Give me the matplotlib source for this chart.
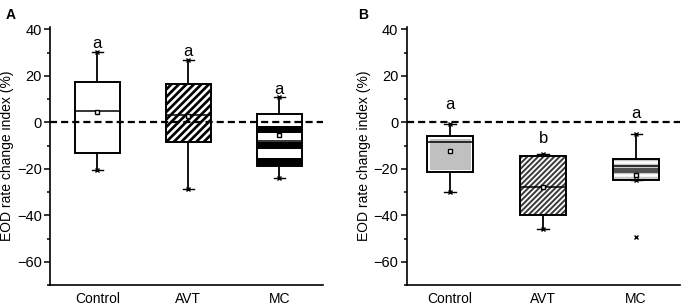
import numpy as np
import matplotlib
matplotlib.use("Agg")
import matplotlib.pyplot as plt
from matplotlib.patches import PathPatch
from matplotlib.lines import Line2D
from matplotlib.transforms import IdentityTransform

plt.rcParams["font.family"] = ["Liberation Sans", "DejaVu Sans"]

groups = ["Control", "AVT", "MC"]

# panel A : moustache basse, Q1, médiane, Q3, moustache haute, moyenne
a_whislo = [-20.3, -28.5, -23.8]
a_q1 = [-13.0, -8.5, -18.8]
a_med = [5.0, 3.3, -8.0]
a_q3 = [17.3, 16.6, 3.7]
a_whishi = [30.2, 26.7, 10.9]
a_mean = [4.4, 2.6, -5.6]
a_letters = ["a", "a", "a"]
a_letter_y = [34.0, 30.5, 14.0]

# panel B
b_whislo = [-30.0, -46.0, -25.0]
b_q1 = [-21.5, -39.8, -25.0]
b_med = [-8.5, -27.9, -19.0]
b_q3 = [-5.7, -14.6, -15.6]
b_whishi = [-0.7, -13.6, -5.0]
b_mean = [-12.2, -27.9, -22.7]
b_fliers = [[], [], [-49.4]]
b_letters = ["a", "b", "a"]
b_letter_y = [7.5, -7.0, 3.8]

# remplissage de chaque boîte : couleur de fond + liste de rayures
# rayure = (angle, période px, largeur px, couleur, décalage px)
a_fills = [("white", []),
           ("white", [(45, 7.5, 2.7, "black", 0)]),
           ("white", [(0, 16, 7, "black", 12)])]
b_fills = [("#c0c0c0", []),
           ("white", [(45, 5.4, 2.0, "#3c3c3c", 0)]),
           ("#c8c8c8", [(0, 13, 2.5, "white", 2.5), (0, 13, 5, "#505050", 9)])]
b_inner_white = [True, False, False]


def stripes(ax, box, angle, period, width, color, offset):
    dpi = ax.figure.dpi
    pts = ax.transData.transform(box.get_path().vertices)
    x0, y0 = pts.min(axis=0)
    x1, y1 = pts.max(axis=0)
    lw = width * 72.0 / dpi
    if angle == 0:
        y = y1 - offset - width / 2.0
        while y > y0 - width:
            ln = Line2D([x0 - 2, x1 + 2], [y, y], lw=lw, color=color,
                        solid_capstyle="butt", transform=IdentityTransform(), zorder=2.1)
            ln.set_clip_path(box)
            ax.add_artist(ln)
            y -= period
    else:
        # lignes y = x + c (45° en pixels)
        c = (y0 - x1) + offset
        while c < (y1 - x0) + period:
            ln = Line2D([x0 - 2, x1 + 2], [x0 - 2 + c, x1 + 2 + c], lw=lw, color=color,
                        solid_capstyle="butt", transform=IdentityTransform(), zorder=2.1)
            ln.set_clip_path(box)
            ax.add_artist(ln)
            c += period


def panel(ax, lo, q1, med, q3, hi, mean, fliers, fills, letters, letter_y, xlim,
          inner_white=(False, False, False)):
    stats = []
    for i in range(len(groups)):
        stats.append(dict(whislo=lo[i], q1=q1[i], med=med[i], q3=q3[i],
                          whishi=hi[i], mean=mean[i], fliers=fliers[i],
                          label=groups[i]))
    pos = np.arange(1, len(groups) + 1)

    ax.set_xlim(*xlim)
    ax.set_ylim(-70, 41)

    # ligne zéro
    ax.axhline(0, color="black", lw=1.6, ls=(0, (3.2, 1.8)), zorder=4)

    res = ax.bxp(stats, positions=pos, widths=0.5, patch_artist=True,
                 showmeans=True, showfliers=True,
                 capwidths=0.12,
                 boxprops=dict(lw=0),
                 whiskerprops=dict(color="black", lw=1.3),
                 capprops=dict(color="black", lw=1.0),
                 medianprops=dict(color="black", lw=1.1),
                 meanprops=dict(marker="s", markersize=3, markerfacecolor="white",
                                markeredgecolor="black", markeredgewidth=1.0),
                 flierprops=dict(marker="x", markersize=3.5, markeredgecolor="black",
                                 markeredgewidth=1.0))
    for box, (fc, st), iw in zip(res["boxes"], fills, inner_white):
        box.set_facecolor(fc)
        box.set_edgecolor("none")
        box.set_zorder(2)
        for s in st:
            stripes(ax, box, *s)
        if iw:
            inner = PathPatch(box.get_path(), fill=False, edgecolor="white",
                              lw=3.6, zorder=2.5)
            ax.add_patch(inner)
            inner.set_clip_path(box)
        outline = PathPatch(box.get_path(), fill=False, edgecolor="black",
                            lw=1.4, zorder=3)
        ax.add_patch(outline)
    for m in res["medians"]:
        m.set_zorder(3.5)
    for m in res["means"]:
        m.set_zorder(5)
    # marqueurs min / max
    ax.plot(pos, lo, ls="none", marker="x", ms=3.5, mec="black", mew=1.0, zorder=5)
    ax.plot(pos, hi, ls="none", marker="x", ms=3.5, mec="black", mew=1.0, zorder=5)

    for x, t, y in zip(pos, letters, letter_y):
        ax.text(x, y, t, ha="center", va="center", fontsize=12)

    ax.set_yticks([-60, -40, -20, 0, 20, 40])
    ax.set_yticks(np.arange(-70, 41, 10), minor=True)
    ax.set_xticks(pos)
    ax.set_xticklabels(groups, fontsize=10)
    ax.tick_params(axis="x", length=0, pad=5)
    ax.tick_params(axis="y", which="major", length=4, width=1.1, labelsize=10.5, pad=2)
    ax.tick_params(axis="y", which="minor", length=2.5, width=1.1)
    for s in ("top", "right"):
        ax.spines[s].set_visible(False)
    for s in ("left", "bottom"):
        ax.spines[s].set_linewidth(1.2)
    ax.set_ylabel("EOD rate change index (%)", fontsize=10, labelpad=2)


fig = plt.figure(figsize=(6.86, 3.06), dpi=100)
axA = fig.add_axes([0.0729, 0.0686, 0.398, 0.843])
axB = fig.add_axes([0.593, 0.0686, 0.398, 0.843])

panel(axA, a_whislo, a_q1, a_med, a_q3, a_whishi, a_mean, [[], [], []],
      a_fills, a_letters, a_letter_y, (0.48, 3.48))
panel(axB, b_whislo, b_q1, b_med, b_q3, b_whishi, b_mean, b_fliers,
      b_fills, b_letters, b_letter_y, (0.535, 3.47), b_inner_white)

fig.text(0.008, 0.975, "A", fontsize=10, fontweight="bold", va="top")
fig.text(0.522, 0.975, "B", fontsize=10, fontweight="bold", va="top")

fig.savefig("out.png", dpi=100)
